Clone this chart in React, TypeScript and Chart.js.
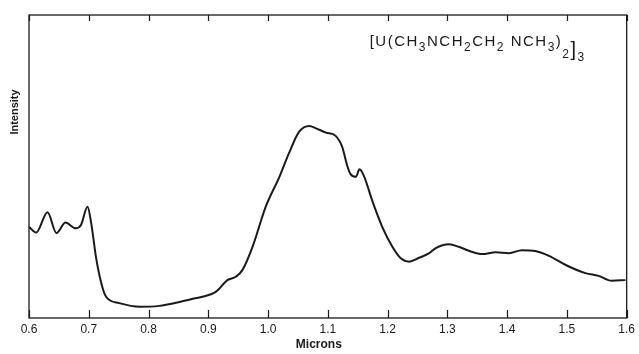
import React, { useEffect, useRef } from "react";
import { Chart, registerables } from "chart.js";

Chart.register(...registerables);

// Spectrum (microns vs relative intensity, 0-100)
const microns = [
  0.600, 0.612, 0.631, 0.646, 0.661, 0.678, 0.687, 0.698, 0.704, 0.712, 0.721, 0.729,
  0.751, 0.785, 0.818, 0.846, 0.871, 0.890, 0.913, 0.932, 0.946, 0.957, 0.974, 0.996,
  1.019, 1.035, 1.052, 1.069, 1.080, 1.097, 1.113, 1.124, 1.133, 1.138, 1.147, 1.153,
  1.161, 1.174, 1.191, 1.208, 1.222, 1.236, 1.252, 1.269, 1.280, 1.303, 1.319, 1.336,
  1.358, 1.381, 1.403, 1.425, 1.447, 1.470, 1.498, 1.531, 1.553, 1.575, 1.598,
];
const intensity = [
  30.1, 28.2, 34.9, 28.0, 31.5, 29.6, 30.7, 36.7, 31.4, 20.2, 11.5, 7.0,
  4.9, 3.7, 4.0, 5.0, 6.2, 7.0, 8.7, 12.5, 13.6, 15.8, 23.5, 36.7,
  46.6, 54.4, 61.5, 63.4, 62.6, 61.2, 60.1, 56.5, 49.9, 47.5, 46.6, 49.1,
  46.6, 38.9, 30.1, 23.5, 19.7, 18.6, 19.8, 21.3, 23.0, 24.3, 23.5, 22.2,
  21.1, 21.7, 21.4, 22.4, 22.1, 20.5, 17.5, 14.8, 13.9, 12.3, 12.5,
];
const xTicks = [0.6, 0.7, 0.8, 0.9, 1.0, 1.1, 1.2, 1.3, 1.4, 1.5, 1.6];
const xTitle = "Microns";
const yTitle = "Intensity";
// formula parts: [text, level] level 0 = main, 1 = subscript, 2 = lower subscript, 3 = lowest, 4 = big bracket
const formulaParts: [string, number][] = [
  ["[U(CH", 0], ["3", 1], ["NCH", 0], ["2", 1], ["CH", 0], ["2", 1],
  [" NCH", 0], ["3", 1], [")", 0], ["2", 2], ["]", 4], ["3", 3],
];

const FONT = "'Liberation Sans', 'DejaVu Sans', sans-serif";
const INK = "#1a1a1a";

export default function App() {
  const ref = useRef<HTMLCanvasElement>(null);

  useEffect(() => {
    document.body.style.margin = "0";
    const canvas = ref.current;
    if (!canvas) return;

    const decor = {
      id: "decor",
      afterDraw(chart: any) {
        const { ctx, chartArea: a } = chart;
        const xs = chart.scales.x;
        ctx.save();
        ctx.strokeStyle = INK;
        ctx.lineWidth = 1.3;
        ctx.strokeRect(a.left, a.top, a.right - a.left, a.bottom - a.top);
        ctx.lineWidth = 1.2;
        ctx.beginPath();
        for (const t of xTicks) {
          const px = Math.round(xs.getPixelForValue(t)) + 0.5;
          ctx.moveTo(px, a.bottom);
          ctx.lineTo(px, a.bottom - 8);
          ctx.moveTo(px, a.top);
          ctx.lineTo(px, a.top + 6);
        }
        ctx.stroke();

        // axis titles
        ctx.fillStyle = INK;
        ctx.font = `bold 12px ${FONT}`;
        ctx.textAlign = "center";
        ctx.textBaseline = "middle";
        ctx.fillText(xTitle, a.left + (a.right - a.left) * 0.485, 345);
        ctx.save();
        ctx.translate(15, a.top + (a.bottom - a.top) * 0.32);
        ctx.rotate(-Math.PI / 2);
        ctx.font = `bold 11px ${FONT}`;
        ctx.fillText(yTitle, 0, 0);
        ctx.restore();

        // formula
        ctx.textAlign = "left";
        ctx.textBaseline = "alphabetic";
        let x = a.left + (a.right - a.left) * 0.57;
        const base = a.top + 31;
        for (const [txt, lvl] of formulaParts) {
          let size = 15, dy = 0;
          if (lvl === 1) { size = 12; dy = 5; }
          if (lvl === 2) { size = 12; dy = 12; }
          if (lvl === 3) { size = 12; dy = 15; }
          if (lvl === 4) { size = 20; dy = 10; }
          ctx.font = `${size}px ${FONT}`;
          for (const ch of txt) {
            ctx.fillText(ch, x, base + dy);
            x += ctx.measureText(ch).width + 1.5;
          }
        }
        ctx.restore();
      },
    };

    const chart = new Chart(canvas, {
      type: "line",
      data: {
        datasets: [
          {
            data: microns.map((m, i) => ({ x: m, y: intensity[i] })),
            borderColor: INK,
            borderWidth: 2,
            pointRadius: 0,
            tension: 0.4,
            cubicInterpolationMode: "monotone",
            fill: false,
          },
        ],
      },
      options: {
        animation: false,
        responsive: false,
        maintainAspectRatio: false,
        layout: { padding: { left: 29, right: 11, top: 15, bottom: 0 } },
        plugins: { legend: { display: false }, tooltip: { enabled: false } },
        scales: {
          x: {
            type: "linear",
            min: 0.6,
            max: 1.6,
            afterBuildTicks: (s: any) => {
              s.ticks = xTicks.map((v) => ({ value: v }));
            },
            afterFit: (s: any) => {
              s.height = 36;
            },
            grid: { display: false, drawTicks: false },
            border: { display: false },
            ticks: {
              padding: 4,
              color: INK,
              font: { family: FONT, size: 12 },
              maxRotation: 0,
              autoSkip: false,
              callback: (v: any) => Number(v).toFixed(1),
            },
          },
          y: {
            display: false,
            min: 0,
            max: 100,
          },
        },
      },
      plugins: [decor],
    } as any);

    return () => chart.destroy();
  }, []);

  return (
    <div style={{ position: "fixed", left: 0, top: 0, width: 639, height: 354, background: "#fff" }}>
      <canvas ref={ref} width={639} height={354} style={{ width: 639, height: 354 }} />
    </div>
  );
}
